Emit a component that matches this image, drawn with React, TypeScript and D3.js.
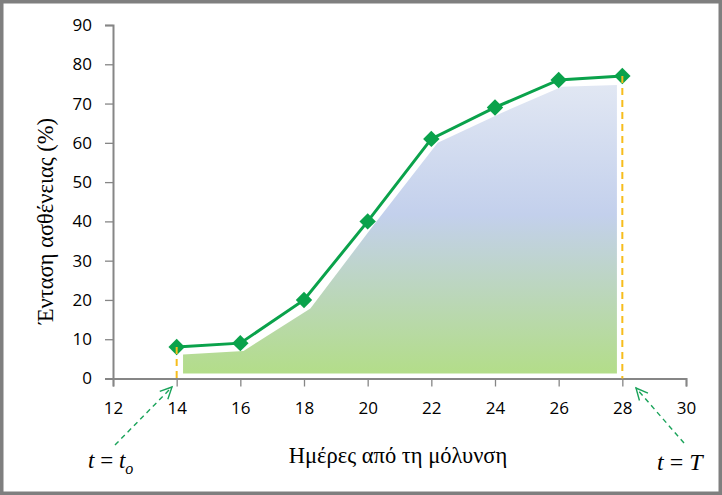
import { useEffect, useRef } from "react";
import * as d3 from "d3";

// measured disease intensity
const days = [14, 16, 18, 20, 22, 24, 26, 28];
const severity = [8, 9, 20, 40, 61, 69, 76, 77];

// shaded region under the curve (area = disease progress)
const shadeDays = [14.2, 16.1, 18.2, 20.17, 22.2, 24.2, 26.1, 27.83];
const shadeTop = [6.1, 7.0, 17.8, 38.9, 60, 67.6, 74.3, 74.7];
const shadeBase = 1.3;

const xTicks = [12, 14, 16, 18, 20, 22, 24, 26, 28, 30];
const yTicks = [0, 10, 20, 30, 40, 50, 60, 70, 80, 90];

const W = 722;
const H = 495;

export default function App() {
  const ref = useRef<SVGSVGElement>(null);

  useEffect(() => {
    document.body.style.margin = "0";
    const svg = d3.select(ref.current);
    svg.selectAll("*").remove();

    const x = d3.scaleLinear().domain([12, 30]).range([113, 686]);
    const y = d3.scaleLinear().domain([0, 90]).range([378.5, 25]);

    const green = "#0aa24b";
    const axisColor = "#868686";
    const tickFont = "'Open Sans', 'DejaVu Sans', sans-serif";
    const serif = "'Liberation Serif', 'DejaVu Serif', serif";

    svg.append("rect").attr("width", W).attr("height", H).attr("fill", "#fff");

    // gradient for area
    const defs = svg.append("defs");
    const grad = defs.append("linearGradient")
      .attr("id", "shade").attr("x1", 0).attr("y1", 0).attr("x2", 0).attr("y2", 1);
    grad.append("stop").attr("offset", "0%").attr("stop-color", "#e1e7f3");
    grad.append("stop").attr("offset", "45%").attr("stop-color", "#c3d0ec");
    grad.append("stop").attr("offset", "100%").attr("stop-color", "#b3dd89");

    const shadeData = shadeDays.map((d, i) => ({ d, v: shadeTop[i] }));
    const area = d3.area<{ d: number; v: number }>()
      .x((p) => x(p.d))
      .y0(y(shadeBase))
      .y1((p) => y(p.v));
    svg.append("path").datum(shadeData).attr("d", area).attr("fill", "url(#shade)");

    // axes
    const xAxis = svg.append("g")
      .attr("transform", `translate(0,${y(0)})`)
      .call(d3.axisBottom(x).tickValues(xTicks).tickSize(8).tickPadding(15));
    const yAxis = svg.append("g")
      .attr("transform", `translate(${x(12)},0)`)
      .call(d3.axisLeft(y).tickValues(yTicks).tickSize(8).tickPadding(13));
    [xAxis, yAxis].forEach((g) => {
      g.select(".domain").attr("stroke", axisColor).attr("stroke-width", 2);
      g.selectAll(".tick line").attr("stroke", axisColor).attr("stroke-width", 1.3);
      g.selectAll(".tick text")
        .attr("fill", "#000")
        .style("font-family", tickFont)
        .style("font-size", "17px");
    });

    // data line
    const pts = days.map((d, i) => ({ d, v: severity[i] }));
    const line = d3.line<{ d: number; v: number }>().x((p) => x(p.d)).y((p) => y(p.v));
    svg.append("path").datum(pts).attr("d", line)
      .attr("fill", "none").attr("stroke", green).attr("stroke-width", 3);

    const diamond = d3.symbol().type(d3.symbolSquare).size(135);
    svg.selectAll("path.mk").data(pts).join("path")
      .attr("class", "mk")
      .attr("d", diamond)
      .attr("transform", (p) => `translate(${x(p.d)},${y(p.v)}) rotate(45)`)
      .attr("fill", green);

    // start / end markers (dashed)
    [0, days.length - 1].forEach((i) => {
      svg.append("line")
        .attr("x1", x(days[i])).attr("x2", x(days[i]))
        .attr("y1", y(severity[i])).attr("y2", y(0))
        .attr("stroke", "#f7bd1c").attr("stroke-width", 2)
        .attr("stroke-dasharray", "7,5");
    });

    // arrows pointing to t0 and T
    const arrows = [
      { from: [115, 445], to: [172, 387] },
      { from: [684, 443], to: [636, 388] },
    ];
    arrows.forEach(({ from, to }) => {
      svg.append("line")
        .attr("x1", from[0]).attr("y1", from[1]).attr("x2", to[0]).attr("y2", to[1])
        .attr("stroke", "#1aa35a").attr("stroke-width", 1.4).attr("stroke-dasharray", "5,4");
      const ang = Math.atan2(to[1] - from[1], to[0] - from[0]);
      const len = 13;
      const spread = 0.45;
      const p1 = [to[0] - len * Math.cos(ang - spread), to[1] - len * Math.sin(ang - spread)];
      const p2 = [to[0] - len * Math.cos(ang + spread), to[1] - len * Math.sin(ang + spread)];
      svg.append("path")
        .attr("d", `M${p1[0]},${p1[1]}L${to[0]},${to[1]}L${p2[0]},${p2[1]}`)
        .attr("fill", "none").attr("stroke", "#1aa35a").attr("stroke-width", 1.4);
    });

    // titles
    svg.append("text")
      .attr("x", 398).attr("y", 463)
      .attr("text-anchor", "middle")
      .style("font-family", serif).style("font-size", "22.5px")
      .text("Ημέρες από τη μόλυνση");

    svg.append("text")
      .attr("transform", "translate(53,221) rotate(-90)")
      .attr("text-anchor", "middle")
      .style("font-family", serif).style("font-size", "22.5px")
      .text("Ένταση ασθένειας (%)");

    const t0 = svg.append("text")
      .attr("x", 88).attr("y", 468)
      .style("font-family", serif).style("font-size", "23px").style("font-style", "italic");
    t0.append("tspan").text("t");
    t0.append("tspan").style("font-style", "normal").text(" = ");
    t0.append("tspan").text("t");
    t0.append("tspan").attr("dy", 6).style("font-size", "16px").text("o");

    const tT = svg.append("text")
      .attr("x", 657).attr("y", 470)
      .style("font-family", serif).style("font-size", "24px").style("font-style", "italic");
    tT.append("tspan").text("t");
    tT.append("tspan").style("font-style", "normal").text(" = ");
    tT.append("tspan").text("T");

    // outer frame
    svg.append("rect")
      .attr("x", 1.75).attr("y", 1.75).attr("width", W - 3.5).attr("height", H - 3.5)
      .attr("fill", "none").attr("stroke", "#7f7f7f").attr("stroke-width", 3.5);
  }, []);

  return (
    <svg
      ref={ref}
      width={W}
      height={H}
      style={{ position: "absolute", left: 0, top: 0, display: "block" }}
    />
  );
}
